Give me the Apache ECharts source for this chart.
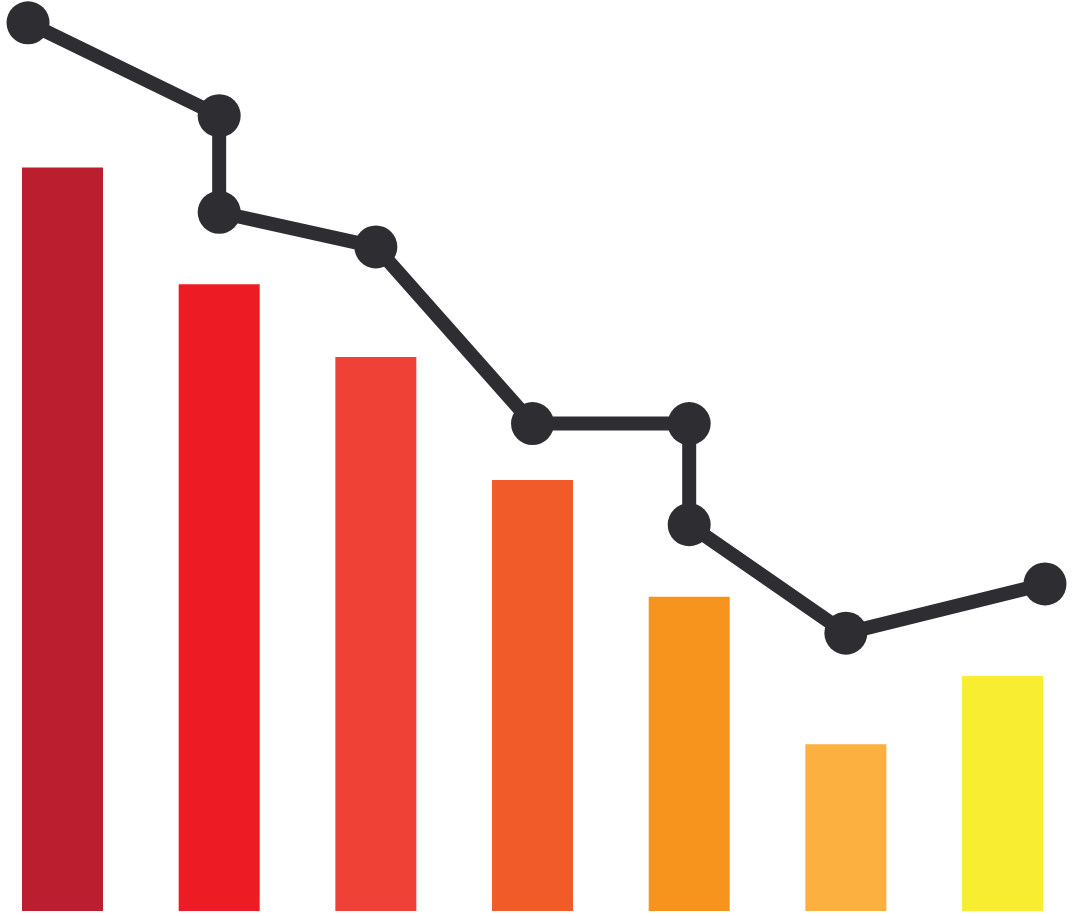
<!DOCTYPE html>
<html>
<head>
<meta charset="utf-8">
<title>chart</title>
<script src="https://cdn.jsdelivr.net/npm/echarts@6/dist/echarts.min.js"></script>
<style>
html, body { margin: 0; padding: 0; background: #fff; }
#main { width: 1074px; height: 916px; }
</style>
</head>
<body>
<div id="main"></div>
<script>
// bar positions (x) and heights
var barX = [0, 1, 2, 3, 4, 5, 6];
var barValues = [81.6, 68.8, 60.8, 47.3, 34.5, 18.3, 25.8];
var barColors = ['#BB1E2F', '#ED1C24', '#EF4136', '#F15A29', '#F7941D', '#FBB040', '#F9ED32'];

// line points
var lineX = [-0.22, 1, 1, 2, 3, 4, 4, 5, 6.271];
var lineValues = [97.5, 87.3, 76.7, 72.9, 53.5, 53.5, 42.4, 30.5, 35.9];

var barData = [];
for (var i = 0; i < barX.length; i++) {
	barData.push({
		value: [barX[i], barValues[i]],
		itemStyle: { color: barColors[i] }
	});
}
var lineData = [];
for (var j = 0; j < lineX.length; j++) {
	lineData.push([lineX[j], lineValues[j]]);
}

var myChart = echarts.init(document.getElementById('main'));
var option = {
	animation: false,
	backgroundColor: '#fff',
	grid: { left: 22, right: 29, top: 0, bottom: 5 },
	xAxis: {
		type: 'value',
		min: -0.2585,
		max: 6.271,
		show: false
	},
	yAxis: {
		type: 'value',
		min: 0,
		max: 100,
		show: false
	},
	series: [
		{
			type: 'bar',
			barWidth: 81,
			data: barData
		},
		{
			type: 'line',
			data: lineData,
			clip: false,
			z: 5,
			symbol: 'circle',
			symbolSize: 43,
			lineStyle: { color: '#2E2E32', width: 14 },
			itemStyle: { color: '#2E2E32' }
		}
	]
};
myChart.setOption(option);
</script>
</body>
</html>
